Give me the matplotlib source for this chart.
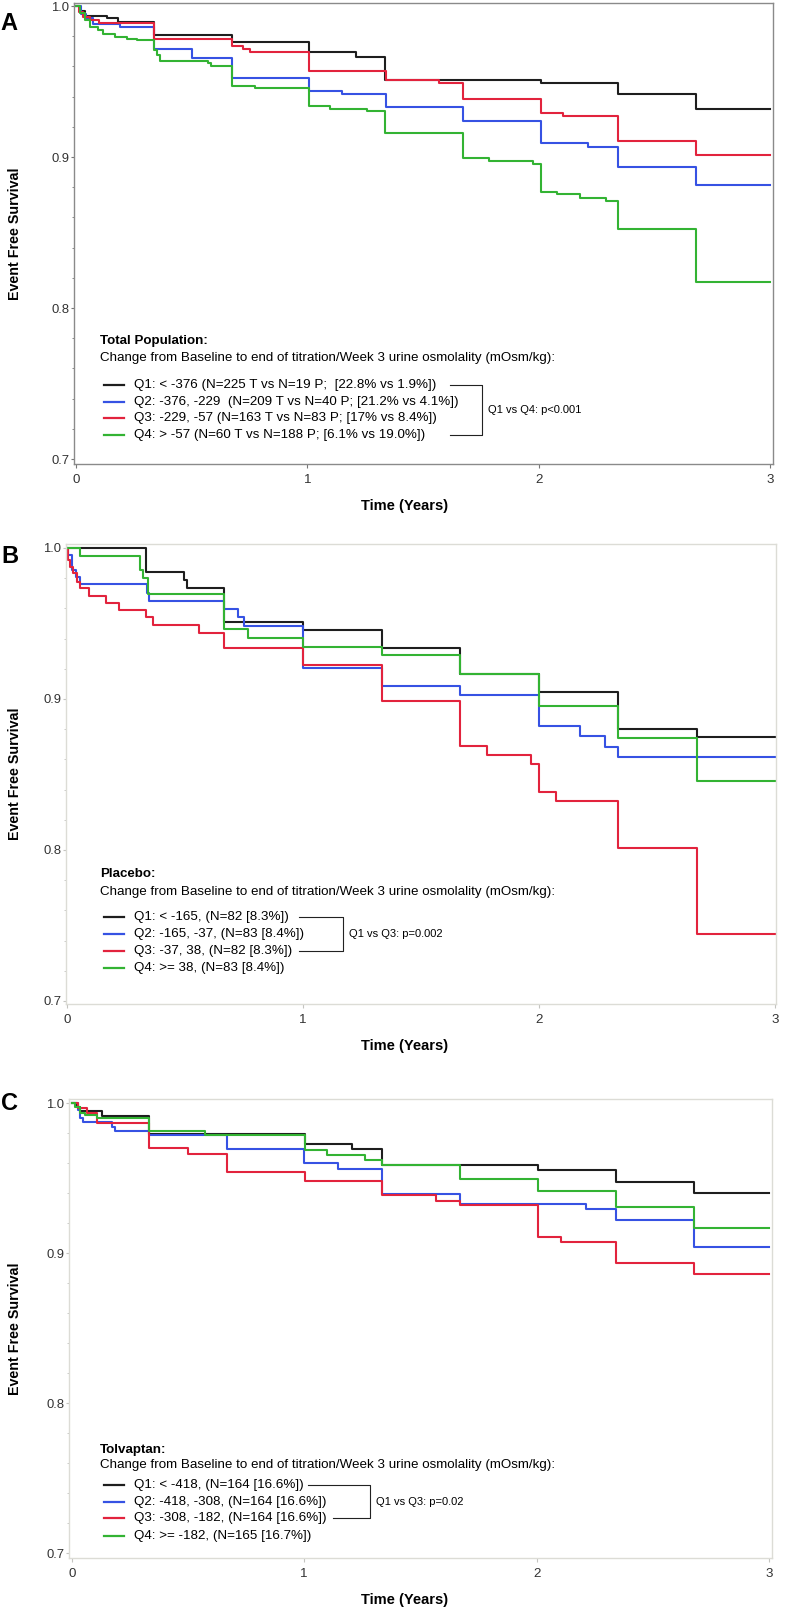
import matplotlib.pyplot as plt
from matplotlib.lines import Line2D
from matplotlib.ticker import MultipleLocator

plt.rcParams['font.family'] = ['Liberation Sans', 'DejaVu Sans']

W, H = 786, 1611

# line colours for Q1..Q4
colors = ['#1e1e1e', '#3652e3', '#e2233d', '#33b333']

time_ticks = [0, 1, 2, 3]
surv_ticks = [0.7, 0.8, 0.9, 1.0]

# ---- Panel A: total population (time in years, event free survival) ----
a_q1_t = [0, 0.017, 0.04, 0.133, 0.183, 0.337, 0.672, 1.008, 1.21, 1.335, 2.009, 2.34, 2.677, 3.0]
a_q1_s = [1.0, 0.9965, 0.9934, 0.9918, 0.9896, 0.9808, 0.976, 0.9693, 0.9665, 0.951, 0.9488, 0.9415, 0.9318, 0.9318]
a_q2_t = [0, 0.02, 0.045, 0.075, 0.19, 0.337, 0.50, 0.672, 1.008, 1.148, 1.339, 1.67, 2.009, 2.21, 2.34, 2.677, 3.0]
a_q2_s = [1.0, 0.995, 0.9918, 0.988, 0.9863, 0.9715, 0.9653, 0.952, 0.944, 0.9415, 0.9333, 0.924, 0.909, 0.9068, 0.8936, 0.8815, 0.8815]
a_q3_t = [0, 0.015, 0.03, 0.06, 0.10, 0.337, 0.672, 0.722, 0.752, 1.008, 1.339, 1.57, 1.67, 2.009, 2.105, 2.34, 2.677, 3.0]
a_q3_s = [1.0, 0.996, 0.993, 0.9905, 0.989, 0.978, 0.9737, 0.9715, 0.9698, 0.957, 0.951, 0.9488, 0.9382, 0.9293, 0.9272, 0.9106, 0.9013, 0.9013]
a_q4_t = [0, 0.017, 0.039, 0.06, 0.097, 0.118, 0.168, 0.219, 0.262, 0.337, 0.348, 0.363, 0.572, 0.582,
          0.672, 0.773, 1.008, 1.097, 1.256, 1.335, 1.67, 1.785, 1.973, 2.009, 2.076, 2.177, 2.29, 2.34, 2.677, 3.0]
a_q4_s = [1.0, 0.9952, 0.9907, 0.9863, 0.9841, 0.9815, 0.9793, 0.978, 0.9775, 0.9709, 0.9675, 0.9638, 0.962, 0.9603,
          0.947, 0.9455, 0.9338, 0.9316, 0.9305, 0.9161, 0.8995, 0.8971, 0.8954, 0.877, 0.8752, 0.873, 0.8707, 0.8525, 0.8174, 0.8174]

# ---- Panel B: placebo ----
b_q1_t = [0, 0.333, 0.497, 0.507, 0.665, 1.0, 1.333, 1.665, 2.0, 2.333, 2.668, 3.0]
b_q1_s = [1.0, 0.9839, 0.9788, 0.9733, 0.9512, 0.9457, 0.934, 0.9166, 0.9044, 0.88, 0.875, 0.875]
b_q2_t = [0, 0.006, 0.02, 0.038, 0.055, 0.338, 0.349, 0.665, 0.726, 0.75, 1.0, 1.333, 1.665, 2.0, 2.174, 2.28, 2.333, 3.0]
b_q2_s = [1.0, 0.9954, 0.9854, 0.981, 0.9762, 0.97, 0.9651, 0.9594, 0.9541, 0.9483, 0.9203, 0.9086, 0.9026, 0.8823,
          0.8755, 0.8684, 0.8618, 0.8618]
b_q3_t = [0, 0.003, 0.012, 0.027, 0.041, 0.055, 0.095, 0.165, 0.222, 0.333, 0.366, 0.561, 0.665, 1.0, 1.333,
          1.665, 1.781, 1.966, 2.0, 2.072, 2.333, 2.668, 3.0]
b_q3_s = [1.0, 0.9921, 0.9876, 0.9832, 0.9777, 0.9733, 0.9684, 0.9638, 0.9589, 0.9541, 0.949, 0.9435, 0.9336, 0.9225,
          0.8987, 0.8689, 0.863, 0.8568, 0.8387, 0.8327, 0.8011, 0.7444, 0.7444]
b_q4_t = [0, 0.055, 0.309, 0.323, 0.345, 0.665, 0.768, 1.0, 1.333, 1.665, 2.0, 2.333, 2.668, 3.0]
b_q4_s = [1.0, 0.9949, 0.9854, 0.98, 0.9695, 0.9461, 0.9406, 0.9346, 0.9291, 0.9166, 0.8954, 0.8744, 0.8459, 0.8459]

# ---- Panel C: tolvaptan ----
c_q1_t = [0, 0.021, 0.036, 0.129, 0.332, 1.003, 1.204, 1.336, 2.007, 2.341, 2.677, 3.0]
c_q1_s = [1.0, 0.9976, 0.9947, 0.9913, 0.9793, 0.9725, 0.9691, 0.9587, 0.9553, 0.9476, 0.9402, 0.9402]
c_q2_t = [0, 0.028, 0.036, 0.05, 0.172, 0.186, 0.332, 0.667, 0.999, 1.147, 1.336, 1.670, 2.211, 2.341, 2.677, 3.0]
c_q2_s = [1.0, 0.9953, 0.9898, 0.9876, 0.9842, 0.9813, 0.9787, 0.9691, 0.9598, 0.9558, 0.9391, 0.9324, 0.9293,
          0.922, 0.9038, 0.9038]
c_q3_t = [0, 0.028, 0.064, 0.107, 0.332, 0.502, 0.667, 1.003, 1.336, 1.566, 1.670, 2.007, 2.105, 2.341, 2.677, 3.0]
c_q3_s = [1.0, 0.9964, 0.9931, 0.9869, 0.9698, 0.966, 0.9538, 0.948, 0.9387, 0.9349, 0.932, 0.9109, 0.9071,
          0.8931, 0.8858, 0.8858]
c_q4_t = [0, 0.014, 0.036, 0.057, 0.107, 0.332, 0.573, 1.003, 1.097, 1.262, 1.336, 1.670, 2.007, 2.341, 2.677, 3.0]
c_q4_s = [1.0, 0.9976, 0.9931, 0.992, 0.9898, 0.9813, 0.9787, 0.9687, 0.9653, 0.962, 0.9587, 0.9491, 0.9416,
          0.9309, 0.9164, 0.9164]

change_text = 'Change from Baseline to end of titration/Week 3 urine osmolality (mOsm/kg):'

a_labels = ['Q1: < -376 (N=225 T vs N=19 P;  [22.8% vs 1.9%])',
            'Q2: -376, -229  (N=209 T vs N=40 P; [21.2% vs 4.1%])',
            'Q3: -229, -57 (N=163 T vs N=83 P; [17% vs 8.4%])',
            'Q4: > -57 (N=60 T vs N=188 P; [6.1% vs 19.0%])']
b_labels = ['Q1: < -165, (N=82 [8.3%])',
            'Q2: -165, -37, (N=83 [8.4%])',
            'Q3: -37, 38, (N=82 [8.3%])',
            'Q4: >= 38, (N=83 [8.4%])']
c_labels = ['Q1: < -418, (N=164 [16.6%])',
            'Q2: -418, -308, (N=164 [16.6%])',
            'Q3: -308, -182, (N=164 [16.6%])',
            'Q4: >= -182, (N=165 [16.7%])']

FS = 9.6  # legend font size


def fx(x):
    return x / W


def fy(y):
    return 1 - y / H


fig = plt.figure(figsize=(W / 100, H / 100), dpi=100)


def draw_panel(box, xlim, ylim, curves, frame, tickcol):
    left, top, right, bottom = box
    ax = fig.add_axes([fx(left), fy(bottom), (right - left) / W, (bottom - top) / H])
    for (t, s), c in zip(curves, colors):
        ax.step(t, s, where='post', color=c, lw=1.5)
    ax.set_xlim(*xlim)
    ax.set_ylim(*ylim)
    ax.set_xticks(time_ticks)
    ax.set_yticks(surv_ticks)
    ax.set_yticklabels([f'{v:.1f}' for v in surv_ticks])
    ax.yaxis.set_minor_locator(MultipleLocator(0.02))
    for sp in ax.spines.values():
        sp.set_color(frame)
        sp.set_linewidth(1.0)
    ax.tick_params(axis='both', which='both', colors=tickcol, labelcolor='#333333')
    ax.tick_params(axis='x', length=3, pad=4, labelsize=9.6)
    ax.tick_params(axis='y', which='major', length=2.5, pad=1, labelsize=9.4)
    ax.tick_params(axis='y', which='minor', length=1.5)
    # labels around the axes
    mid = (top + bottom) / 2
    fig.text(fx(15), fy(mid), 'Event Free Survival', rotation=90, fontsize=10.3,
             fontweight='bold', ha='center', va='center')
    fig.text(fx(405), fy(bottom + 42), 'Time (Years)', fontsize=10.5, fontweight='bold',
             ha='center', va='center')
    return ax


def draw_legend(header, y_head, y_change, rows_y, labels):
    fig.text(fx(100), fy(y_head), header, fontsize=FS, fontweight='bold', va='center')
    fig.text(fx(100), fy(y_change), change_text, fontsize=FS, va='center')
    for y, lab, c in zip(rows_y, labels, colors):
        fig.add_artist(Line2D([fx(104), fx(124)], [fy(y), fy(y)], color=c, lw=1.6))
        fig.text(fx(134), fy(y), lab, fontsize=FS, va='center')


def draw_bracket(y1, y2, x1, x2, xe, text):
    fig.add_artist(Line2D([fx(x1), fx(xe), fx(xe), fx(x2)], [fy(y1), fy(y1), fy(y2), fy(y2)],
                          color='#222222', lw=0.8))
    fig.text(fx(xe + 6), fy((y1 + y2) / 2), text, fontsize=8, va='center')


# Panel A
draw_panel((74, 3, 773, 464), (-0.0086, 3.011), (0.6967, 1.002),
           [(a_q1_t, a_q1_s), (a_q2_t, a_q2_s), (a_q3_t, a_q3_s), (a_q4_t, a_q4_s)],
           '#8a8a8a', '#777777')
draw_legend('Total Population:', 341, 358, [385, 401.7, 418.3, 435], a_labels)
draw_bracket(385, 435, 450, 450, 482, 'Q1 vs Q4: p<0.001')
fig.text(fx(9), fy(23), 'A', fontsize=17, fontweight='bold', ha='center', va='center')

# Panel B
draw_panel((66, 544, 776, 1004), (-0.004, 3.004), (0.698, 1.0026),
           [(b_q1_t, b_q1_s), (b_q2_t, b_q2_s), (b_q3_t, b_q3_s), (b_q4_t, b_q4_s)],
           '#dcdcd6', '#c4c4c0')
draw_legend('Placebo:', 874, 891.7, [917.3, 934, 950.7, 967.7], b_labels)
draw_bracket(917.3, 950.7, 299, 299, 343, 'Q1 vs Q3: p=0.002')
fig.text(fx(10), fy(556), 'B', fontsize=17, fontweight='bold', ha='center', va='center')

# Panel C
draw_panel((69, 1099, 772, 1558), (-0.0116, 3.012), (0.6967, 1.0027),
           [(c_q1_t, c_q1_s), (c_q2_t, c_q2_s), (c_q3_t, c_q3_s), (c_q4_t, c_q4_s)],
           '#dcdcd6', '#c4c4c0')
draw_legend('Tolvaptan:', 1450, 1465, [1485, 1501.7, 1518.3, 1536], c_labels)
draw_bracket(1485, 1518.3, 308, 333, 370, 'Q1 vs Q3: p=0.02')
fig.text(fx(10), fy(1103), 'C', fontsize=17, fontweight='bold', ha='center', va='center')

fig.savefig('out.png', dpi=100)
